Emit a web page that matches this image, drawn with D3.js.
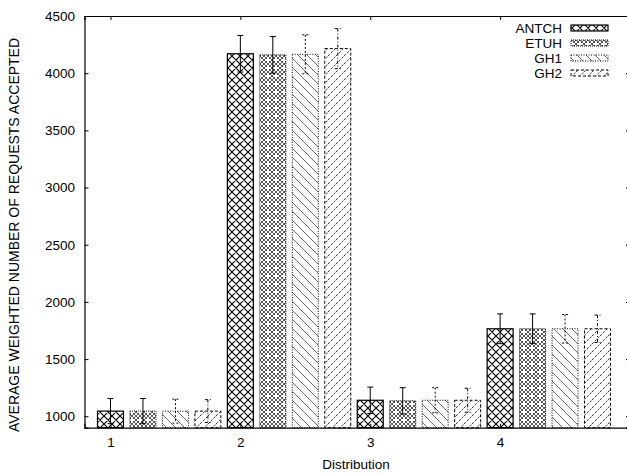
<!DOCTYPE html>
<html>
<head>
<meta charset="utf-8">
<script src="https://cdn.jsdelivr.net/npm/d3@7"></script>
<style>
    body { margin: 0; background: #fff; }
    svg { display: block; font-family: "Liberation Sans", Arial, sans-serif; }
</style>
</head>
<body>
<div class="chart"></div>
<script>
// #region Data
const categories = ['1', '2', '3', '4'];
const seriesNames = ['ANTCH', 'ETUH', 'GH1', 'GH2'];
const antchValues = [1045, 4170, 1140, 1765];
const etuhValues = [1045, 4160, 1135, 1765];
const gh1Values = [1045, 4165, 1140, 1765];
const gh2Values = [1045, 4215, 1140, 1765];
const antchErrors = [110, 160, 115, 130];
const etuhErrors = [110, 160, 115, 130];
const gh1Errors = [105, 170, 110, 125];
const gh2Errors = [100, 175, 105, 120];
const yTicks = [1000, 1500, 2000, 2500, 3000, 3500, 4000, 4500];
// #endregion

const width = 627, height = 474;
const margin = { left: 84.5, top: 16, right: 630, bottom: 427.7 };
const fontSize = 13.5;

const seriesValues = [antchValues, etuhValues, gh1Values, gh2Values];
const seriesErrors = [antchErrors, etuhErrors, gh1Errors, gh2Errors];

// styles per series: border dash, error bar dash
const borderDash = [null, '1,1', '1,1.5', '3,2'];
const errDash = [null, null, '2,2', '3,2,1,2'];

let svg = d3.select('.chart')
    .append('svg')
    .attr('width', width)
    .attr('height', height);

// #region Patterns
let defs = svg.append('defs');

let p0 = defs.append('pattern').attr('id', 'pat0')
    .attr('patternUnits', 'userSpaceOnUse').attr('width', 8).attr('height', 8);
p0.append('path').attr('d', 'M0,0L8,8M8,0L0,8M-1,7L1,9M7,-1L9,1')
    .attr('stroke', '#000').attr('stroke-width', 1.1);

let p1 = defs.append('pattern').attr('id', 'pat1')
    .attr('patternUnits', 'userSpaceOnUse').attr('width', 8).attr('height', 8);
p1.append('path').attr('d', 'M0,0L8,8M8,0L0,8M0,4L4,0M4,8L8,4M0,4L4,8M4,0L8,4')
    .attr('stroke', '#111').attr('stroke-width', 0.7);
p1.append('rect').attr('x', 3).attr('y', 3).attr('width', 2).attr('height', 2).attr('fill', '#fff');

let p2 = defs.append('pattern').attr('id', 'pat2')
    .attr('patternUnits', 'userSpaceOnUse').attr('width', 9).attr('height', 9);
p2.append('path').attr('d', 'M0,0L9,9M-1,8L1,10M8,-1L10,1')
    .attr('stroke', '#444').attr('stroke-width', 0.8);

let p3 = defs.append('pattern').attr('id', 'pat3')
    .attr('patternUnits', 'userSpaceOnUse').attr('width', 8).attr('height', 8);
p3.append('path').attr('d', 'M0,8L8,0M-1,1L1,-1M7,9L9,7')
    .attr('stroke', '#222').attr('stroke-width', 0.9).attr('stroke-dasharray', '2.5,1.5');
// #endregion

// #region Scales
let xScale = d3.scaleLinear()
    .domain([0.8, 5.0])
    .range([margin.left, margin.right]);
let yScale = d3.scaleLinear()
    .domain([900, 4500])
    .range([margin.bottom, margin.top]);
// #endregion

// #region Bars
const barStep = 0.25, barWidth = 0.2;
seriesNames.forEach((name, j) => {
    let data = categories.map((c, i) => ({ cat: +c, value: seriesValues[j][i], err: seriesErrors[j][i] }));
    let g = svg.append('g').attr('class', 'series' + name);
    g.selectAll('rect')
        .data(data)
        .enter()
        .append('rect')
        .attr('x', d => xScale(d.cat + j * barStep - barWidth / 2))
        .attr('y', d => yScale(d.value))
        .attr('width', d => xScale(d.cat + j * barStep + barWidth / 2) - xScale(d.cat + j * barStep - barWidth / 2))
        .attr('height', d => yScale.range()[0] - yScale(d.value))
        .attr('fill', 'url(#pat' + j + ')')
        .attr('stroke', '#000')
        .attr('stroke-width', j == 0 ? 1.2 : 1)
        .attr('stroke-dasharray', borderDash[j]);

    // error bars
    let e = g.selectAll('.err')
        .data(data)
        .enter()
        .append('g')
        .attr('class', 'err')
        .attr('stroke', '#000')
        .attr('stroke-width', 1)
        .attr('stroke-dasharray', errDash[j]);
    e.append('line')
        .attr('x1', d => xScale(d.cat + j * barStep))
        .attr('x2', d => xScale(d.cat + j * barStep))
        .attr('y1', d => yScale(d.value + d.err))
        .attr('y2', d => yScale(d.value - d.err));
    e.append('line')
        .attr('x1', d => xScale(d.cat + j * barStep) - 3)
        .attr('x2', d => xScale(d.cat + j * barStep) + 3)
        .attr('y1', d => yScale(d.value + d.err))
        .attr('y2', d => yScale(d.value + d.err));
    e.append('line')
        .attr('x1', d => xScale(d.cat + j * barStep) - 3)
        .attr('x2', d => xScale(d.cat + j * barStep) + 3)
        .attr('y1', d => yScale(d.value - d.err))
        .attr('y2', d => yScale(d.value - d.err));
});
// #endregion

// #region Axes (gnuplot style: inward ticks, mirrored)
let gY = svg.append('g')
    .attr('transform', 'translate(' + margin.left + ',0)')
    .call(d3.axisLeft(yScale).tickValues(yTicks).tickSize(-4).tickPadding(9.5).tickFormat(d3.format('d')));
let gY2 = svg.append('g')
    .attr('transform', 'translate(' + margin.right + ',0)')
    .call(d3.axisRight(yScale).tickValues(yTicks).tickSize(-4).tickFormat(''));
let gX = svg.append('g')
    .attr('transform', 'translate(0,' + margin.bottom + ')')
    .call(d3.axisBottom(xScale).tickValues(categories.map(Number)).tickSize(-4).tickPadding(10).tickFormat(d3.format('d')));
let gX2 = svg.append('g')
    .attr('transform', 'translate(0,' + margin.top + ')')
    .call(d3.axisTop(xScale).tickValues(categories.map(Number)).tickSize(-4).tickFormat(''));

[gY, gY2, gX, gX2].forEach(g => {
    g.select('.domain').attr('stroke-width', 1.2);
    g.selectAll('text').attr('font-size', fontSize).attr('fill', '#000')
        .attr('font-family', '"Liberation Sans", Arial, sans-serif');
});
// #endregion

// #region Titles
svg.append('text')
    .attr('transform', 'translate(19,235) rotate(-90)')
    .attr('text-anchor', 'middle')
    .attr('font-size', 14)
    .text('AVERAGE WEIGHTED NUMBER OF REQUESTS ACCEPTED');
svg.append('text')
    .attr('x', 356)
    .attr('y', 469)
    .attr('text-anchor', 'middle')
    .attr('font-size', fontSize)
    .text('Distribution');
// #endregion

// #region Legend
let legend = svg.append('g').attr('class', 'legend');
seriesNames.forEach((name, j) => {
    let y = 28 + j * 15;
    legend.append('text')
        .attr('x', 562)
        .attr('y', y + 5)
        .attr('text-anchor', 'end')
        .attr('font-size', fontSize)
        .text(name);
    legend.append('rect')
        .attr('x', 571)
        .attr('y', y - 3)
        .attr('width', 37)
        .attr('height', 6)
        .attr('fill', 'url(#pat' + j + ')')
        .attr('stroke', '#000')
        .attr('stroke-width', j == 0 ? 1.2 : 1)
        .attr('stroke-dasharray', borderDash[j]);
});
// #endregion
</script>
</body>
</html>
